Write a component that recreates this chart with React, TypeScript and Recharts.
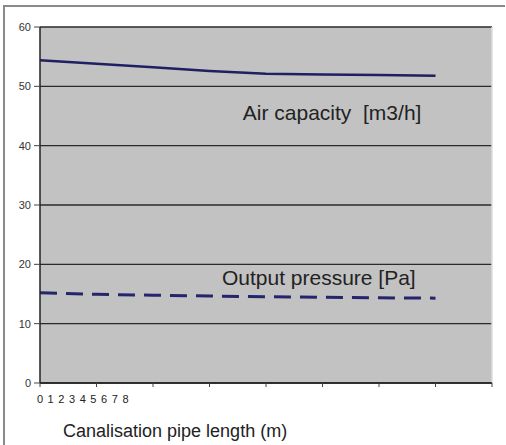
import { LineChart, Line, XAxis, YAxis, CartesianGrid, ReferenceDot, ReferenceLine } from "recharts";

// pipe length positions (category index on the chart)
const lengthSteps = [0, 1, 2, 3, 4, 5, 6, 7];
const airCapacity = [54.4, 53.8, 53.2, 52.6, 52.1, 52.0, 51.9, 51.8];
const outputPressure = [15.2, 14.95, 14.8, 14.65, 14.55, 14.45, 14.35, 14.3];
const yTicks = [0, 10, 20, 30, 40, 50, 60];
const xTicks = [0, 1, 2, 3, 4, 5, 6, 7, 8];
const xTickLabels = ["0", "1", "2", "3", "4", "5", "6", "7", "8"];

const data = lengthSteps.map((step, i) => ({
  step,
  air: airCapacity[i],
  pressure: outputPressure[i],
}));

const textColor = "#222";

export default function App() {
  return (
    <div
      style={{
        position: "absolute",
        left: 0,
        top: 0,
        width: 506,
        height: 445,
        background: "#fff",
        fontFamily: "'Liberation Sans', Arial, sans-serif",
      }}
    >
      {/* outer frame */}
      <div
        style={{
          position: "absolute",
          left: 3,
          top: 5,
          width: 502,
          height: 440,
          borderTop: "2px solid #8a8a8a",
          borderLeft: "2px solid #8a8a8a",
          boxSizing: "border-box",
        }}
      />
      <LineChart
        width={506}
        height={445}
        data={data}
        margin={{ top: 27, right: 14, left: 0, bottom: 0 }}
        style={{ position: "absolute", left: 0, top: 0 }}
      >
        <CartesianGrid
          vertical={false}
          fill="#c2c2c2"
          stroke="#2a2a2a"
          strokeWidth={1.3}
          xAxisId="a"
        />
        <XAxis
          xAxisId="a"
          dataKey="step"
          type="number"
          domain={[0, 8]}
          ticks={xTicks}
          tickFormatter={() => ""}
          axisLine={{ stroke: "#222", strokeWidth: 1.5 }}
          tickLine={{ stroke: "#444" }}
          tickSize={4}
          height={8}
        />
        <XAxis
          xAxisId="b"
          dataKey="step"
          type="number"
          domain={[0, 42.3]}
          allowDataOverflow
          ticks={xTicks}
          tickFormatter={(v) => xTickLabels[v]}
          axisLine={false}
          tickLine={false}
          tickSize={0}
          tickMargin={4}
          tick={{ fontSize: 11, fill: textColor }}
          height={54}
          label={{
            content: (props: any) => (
              <text
                x={props.viewBox.x + 23}
                y={props.viewBox.y + 46}
                fontSize={18}
                fill={textColor}
              >
                Canalisation pipe length (m)
              </text>
            ),
          }}
        />
        <YAxis
          domain={[0, 60]}
          ticks={yTicks}
          width={40}
          axisLine={{ stroke: "#222", strokeWidth: 1.5 }}
          tickLine={{ stroke: "#444" }}
          tickSize={6}
          tickMargin={3}
          tick={{ fontSize: 11, fill: "#333" }}
        />
        {/* light right edge of the plot area */}
        <ReferenceLine xAxisId="a" x={8} stroke="#dcdcdc" strokeWidth={1.5} />
        <Line
          xAxisId="a"
          dataKey="air"
          stroke="#1f1f62"
          strokeWidth={2.5}
          dot={false}
          isAnimationActive={false}
        />
        <Line
          xAxisId="a"
          dataKey="pressure"
          stroke="#25256e"
          strokeWidth={3}
          strokeDasharray="17 9"
          dot={false}
          isAnimationActive={false}
        />
        <ReferenceDot
          xAxisId="a"
          x={3.59}
          y={45.5}
          r={0}
          label={{
            value: "Air capacity\u00A0\u00A0[m3/h]",
            position: "right",
            offset: 0,
            fontSize: 21,
            fill: textColor,
          }}
        />
        <ReferenceDot
          xAxisId="a"
          x={3.22}
          y={17.7}
          r={0}
          label={{
            value: "Output pressure [Pa]",
            position: "right",
            offset: 0,
            fontSize: 21,
            fill: textColor,
          }}
        />
      </LineChart>
    </div>
  );
}
